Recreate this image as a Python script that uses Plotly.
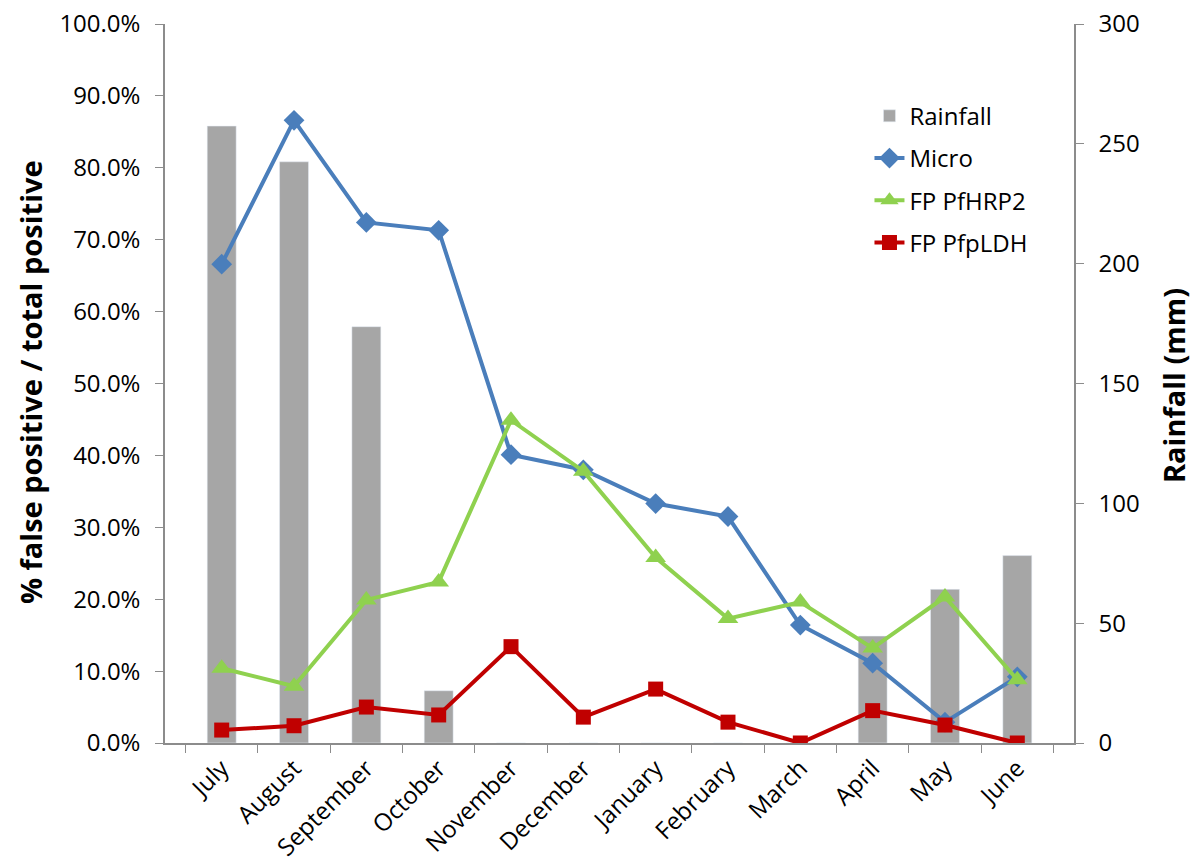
import plotly.graph_objects as go

months = ["July", "August", "September", "October", "November", "December",
          "January", "February", "March", "April", "May", "June"]
rainfall = [257.4, 242.5, 173.7, 21.8, 0, 0, 0, 0, 0, 44.6, 64.1, 78.2]
micro = [0.666, 0.866, 0.724, 0.713, 0.401, 0.380, 0.333, 0.315, 0.164, 0.111, 0.029, 0.092]
fp_hrp2 = [0.104, 0.079, 0.199, 0.224, 0.449, 0.378, 0.258, 0.173, 0.196, 0.132, 0.203, 0.088]
fp_ldh = [0.018, 0.024, 0.050, 0.039, 0.134, 0.036, 0.075, 0.029, 0.0, 0.045, 0.025, 0.0]

FONT = "Open Sans"
AX = "#8c8c8c"
TICK = 24

fig = go.Figure()
fig.add_trace(go.Bar(x=months, y=rainfall, name="Rainfall", marker_color="#A6A6A6",
                     width=0.4, yaxis="y", legendgroup="a"))
fig.add_trace(go.Scatter(x=months, y=micro, name="Micro", mode="lines+markers",
                         line=dict(color="#4A7EBB", width=4),
                         marker=dict(symbol="diamond", size=16, color="#4A7EBB"),
                         yaxis="y2", legendgroup="b"))
fig.add_trace(go.Scatter(x=months, y=fp_hrp2, name="FP PfHRP2", mode="lines+markers",
                         line=dict(color="#8FD14F", width=4),
                         marker=dict(symbol="triangle-up", size=18, color="#8FD14F"),
                         yaxis="y2", legendgroup="c"))
fig.add_trace(go.Scatter(x=months, y=fp_ldh, name="FP PfpLDH", mode="lines+markers",
                         line=dict(color="#C00000", width=4),
                         marker=dict(symbol="square", size=15, color="#C00000"),
                         yaxis="y2", legendgroup="d"))

fig.update_layout(
    width=1200, height=866,
    margin=dict(l=165, r=126, t=24, b=123, autoexpand=False),
    paper_bgcolor="white", plot_bgcolor="white",
    font=dict(family=FONT, size=TICK, color="black"),
    showlegend=True,
    legend=dict(x=0.775, y=0.903, xanchor="left", yanchor="top",
                font=dict(size=TICK), tracegroupgap=8, bgcolor="rgba(0,0,0,0)"),
    xaxis=dict(type="category", showline=True, linecolor=AX, linewidth=1.5,
               ticks="outside", tickson="boundaries", ticklen=8, tickcolor=AX,
               tickangle=-45, showgrid=False, tickfont=dict(size=TICK), automargin=False,
               ticklabeloverflow="allow"),
    yaxis=dict(side="right", range=[0, 300], dtick=50, showline=True, linecolor=AX,
               linewidth=1.5, ticks="outside", ticklen=8, tickcolor=AX, showgrid=False,
               zeroline=False, ticklabelstandoff=10, tickfont=dict(size=TICK), automargin=False,
               ticklabeloverflow="allow"),
    yaxis2=dict(side="left", overlaying="y", range=[0, 1], dtick=0.1, tickformat=".1%",
                showline=True, linecolor=AX, linewidth=1.5, ticks="outside", ticklen=8,
                tickcolor=AX, showgrid=False, zeroline=False, ticklabelstandoff=10,
                tickfont=dict(size=TICK), automargin=False, ticklabeloverflow="allow"),
    annotations=[
        dict(text="<b>% false positive / total positive</b>", xref="paper", yref="paper",
             x=-0.1485, y=0.502, textangle=-90, showarrow=False,
             font=dict(size=29, family=FONT), xanchor="center", yanchor="middle"),
        dict(text="<b>Rainfall (mm)</b>", xref="paper", yref="paper",
             x=1.109, y=0.4965, textangle=-90, showarrow=False,
             font=dict(size=29, family=FONT), xanchor="center", yanchor="middle"),
    ],
)

fig.write_html("out.html", config={"displayModeBar": False},
               post_script="document.body.style.margin='0';document.body.style.overflow='hidden';")
